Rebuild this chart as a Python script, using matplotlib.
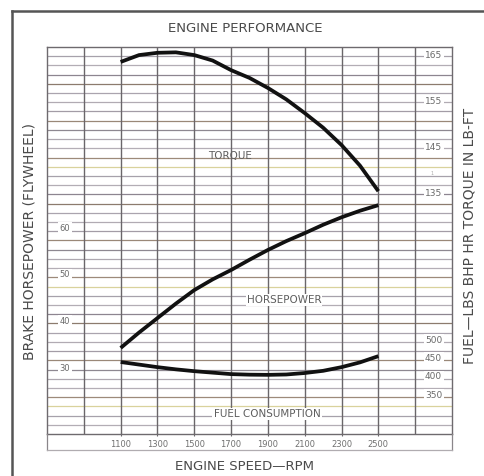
import numpy as np
import matplotlib
matplotlib.use("Agg")
import matplotlib.pyplot as plt
from matplotlib.lines import Line2D

# ---------------- data ----------------
torque_rpm = [1100, 1200, 1300, 1400, 1500, 1600, 1700, 1800, 1900, 2000, 2100, 2200, 2300, 2400, 2500]
torque_lbft = [163.7, 165.2, 165.7, 165.8, 165.2, 164.0, 161.9, 160.2, 158.0, 155.5, 152.5, 149.3, 145.5, 141.0, 135.4]

hp_rpm = [1100, 1200, 1300, 1400, 1500, 1600, 1700, 1800, 1900, 2000, 2100, 2200, 2300, 2400, 2500]
hp_values = [34.3, 37.6, 40.7, 43.8, 46.7, 49.0, 51.0, 53.2, 55.3, 57.2, 58.9, 60.7, 62.3, 63.7, 64.9]

fuel_rpm = [1100, 1200, 1300, 1400, 1500, 1600, 1700, 1800, 1900, 2000, 2100, 2200, 2300, 2400, 2500]
fuel_values = [440, 433, 426, 420, 415, 411, 407, 405.5, 405, 406, 410, 416, 426, 439, 456]

rpm_ticks = [1100, 1300, 1500, 1700, 1900, 2100, 2300, 2500]
rpm_tick_labels = ["1100", "1300", "1500", "1700", "1900", "2100", "2300", "2500"]
hp_label_values = [60, 50, 40, 30]
torque_label_values = [165, 155, 145, 135]
fuel_label_values = [500, 450, 400, 350]

# ---------------- figure ----------------
W, H = 485, 476
fig = plt.figure(figsize=(W / 100, H / 100), dpi=100)
fig.patch.set_facecolor("white")

gx0, gx1, gy0, gy1 = 47, 452, 47, 434  # grid box in pixels (top-left origin)
ax = fig.add_axes([gx0 / W, 1 - gy1 / H, (gx1 - gx0) / W, (gy1 - gy0) / H])
ax.set_facecolor("white")
ax.set_xlim(700, 2900)
hp_lo, hp_hi = 15.86, 98.79
ax.set_ylim(hp_lo, hp_hi)

for s in ax.spines.values():
    s.set_color("#6e6a6e")
    s.set_linewidth(1.0)

# horizontal grid lines (printed chart paper)
row_cols = ['#a7a1ab', '#b3adb5', '#8d8590', '#8c7b6e', '#aaa4ae', '#b1abb3',
            '#a39ca6', '#9a8878', '#8e8891', '#aea8b0', '#b4aeb6', '#9d8a7a', '#d9d29c']
rows = np.linspace(hp_lo, hp_hi, 43)[1:-1]
for i, yv in enumerate(rows[::-1]):
    ax.axhline(yv, color=row_cols[i % len(row_cols)], lw=0.9, zorder=1)

# vertical grid lines
for xv in range(900, 2701, 200):
    ax.axvline(xv, color="#6a666a", lw=1.0, zorder=1.5)

ax.set_xticks(rpm_ticks)
ax.set_xticklabels(rpm_tick_labels, fontsize=6, color="#707070")
ax.tick_params(axis="x", length=3, width=0.8, color="#6a666a", pad=2.5, direction="inout")
ax.set_yticks([])

# twin axes for torque and fuel
ax_t = ax.twinx()
ax_t.set_ylim(82.23, 166.97)
ax_f = ax.twinx()
ax_f.set_ylim(243.7, 1299.0)
for a in (ax_t, ax_f):
    a.set_yticks([])
    for s in a.spines.values():
        s.set_visible(False)

# curves
lw = 2.7
ax_t.plot(torque_rpm, torque_lbft, color="#111111", lw=lw, solid_capstyle="butt", solid_joinstyle="round", zorder=5)
ax.plot(hp_rpm, hp_values, color="#111111", lw=lw, solid_capstyle="butt", solid_joinstyle="round", zorder=5)
ax_f.plot(fuel_rpm, fuel_values, color="#111111", lw=lw, solid_capstyle="butt", solid_joinstyle="round", zorder=5)

lab_col = "#6a6a6a"
box = dict(facecolor="white", edgecolor="none", pad=1.0)
# left labels (horsepower)
for v in hp_label_values:
    ax.text(798, v, str(v), fontsize=6, color=lab_col, ha="center", va="center", bbox=box, zorder=4)
# right labels (torque)
for v in torque_label_values:
    ax_t.text(2800, v, str(v), fontsize=6.5, color=lab_col, ha="center", va="center", bbox=box, zorder=4)
ax_t.text(2790, 139.2, "1", fontsize=3.5, color="#aaaaaa", ha="center", va="center", zorder=4)
# right labels (fuel)
for v in fuel_label_values:
    ax_f.text(2800, v, str(v), fontsize=6.5, color=lab_col, ha="center", va="center", bbox=box, zorder=4)

# curve names
ax.text(1694, 75.4, "TORQUE", fontsize=7.5, color="#5e5e5e", ha="center", va="center", zorder=4)
ax.text(1987, 44.6, "HORSEPOWER", fontsize=7.5, color="#5e5e5e", ha="center", va="center",
        bbox=dict(facecolor="white", edgecolor="none", pad=0.5), zorder=4)
ax.text(1895, 20.1, "FUEL CONSUMPTION", fontsize=7.5, color="#5e5e5e", ha="center", va="center",
        bbox=dict(facecolor="white", edgecolor="none", pad=0.8), zorder=4)

# titles
txt_col = "#4a4a4a"
fig.text(245 / W, 1 - 28 / H, "ENGINE PERFORMANCE", fontsize=9.5, color=txt_col, ha="center", va="center")
fig.text(245 / W, 1 - 466 / H, "ENGINE SPEED\u2014RPM", fontsize=9.5, color=txt_col, ha="center", va="center")
fig.text(30 / W, 1 - 242 / H, "BRAKE HORSEPOWER (FLYWHEEL)", fontsize=10, color=txt_col,
         ha="center", va="center", rotation=90)
fig.text(470 / W, 1 - 236 / H, "FUEL\u2014LBS BHP HR TORQUE IN LB-FT", fontsize=10, color=txt_col,
         ha="center", va="center", rotation=90)

# outer frame (left and top edges of the printed box)
def fline(xs, ys, **kw):
    fig.add_artist(Line2D([x / W for x in xs], [1 - y / H for y in ys], transform=fig.transFigure, **kw))

fline([12, 12], [11, 476], color="#555555", lw=1.8)
fline([12, 485], [11, 11], color="#555555", lw=1.8)
# box around grid and rpm labels
fline([gx0, gx0], [gy1, 450], color="#8a868a", lw=0.9)
fline([gx1, gx1], [gy1, 450], color="#8a868a", lw=0.9)
fline([gx0, gx1], [450, 450], color="#b0acb0", lw=0.9)

fig.savefig("out.png", dpi=100, facecolor="white")
